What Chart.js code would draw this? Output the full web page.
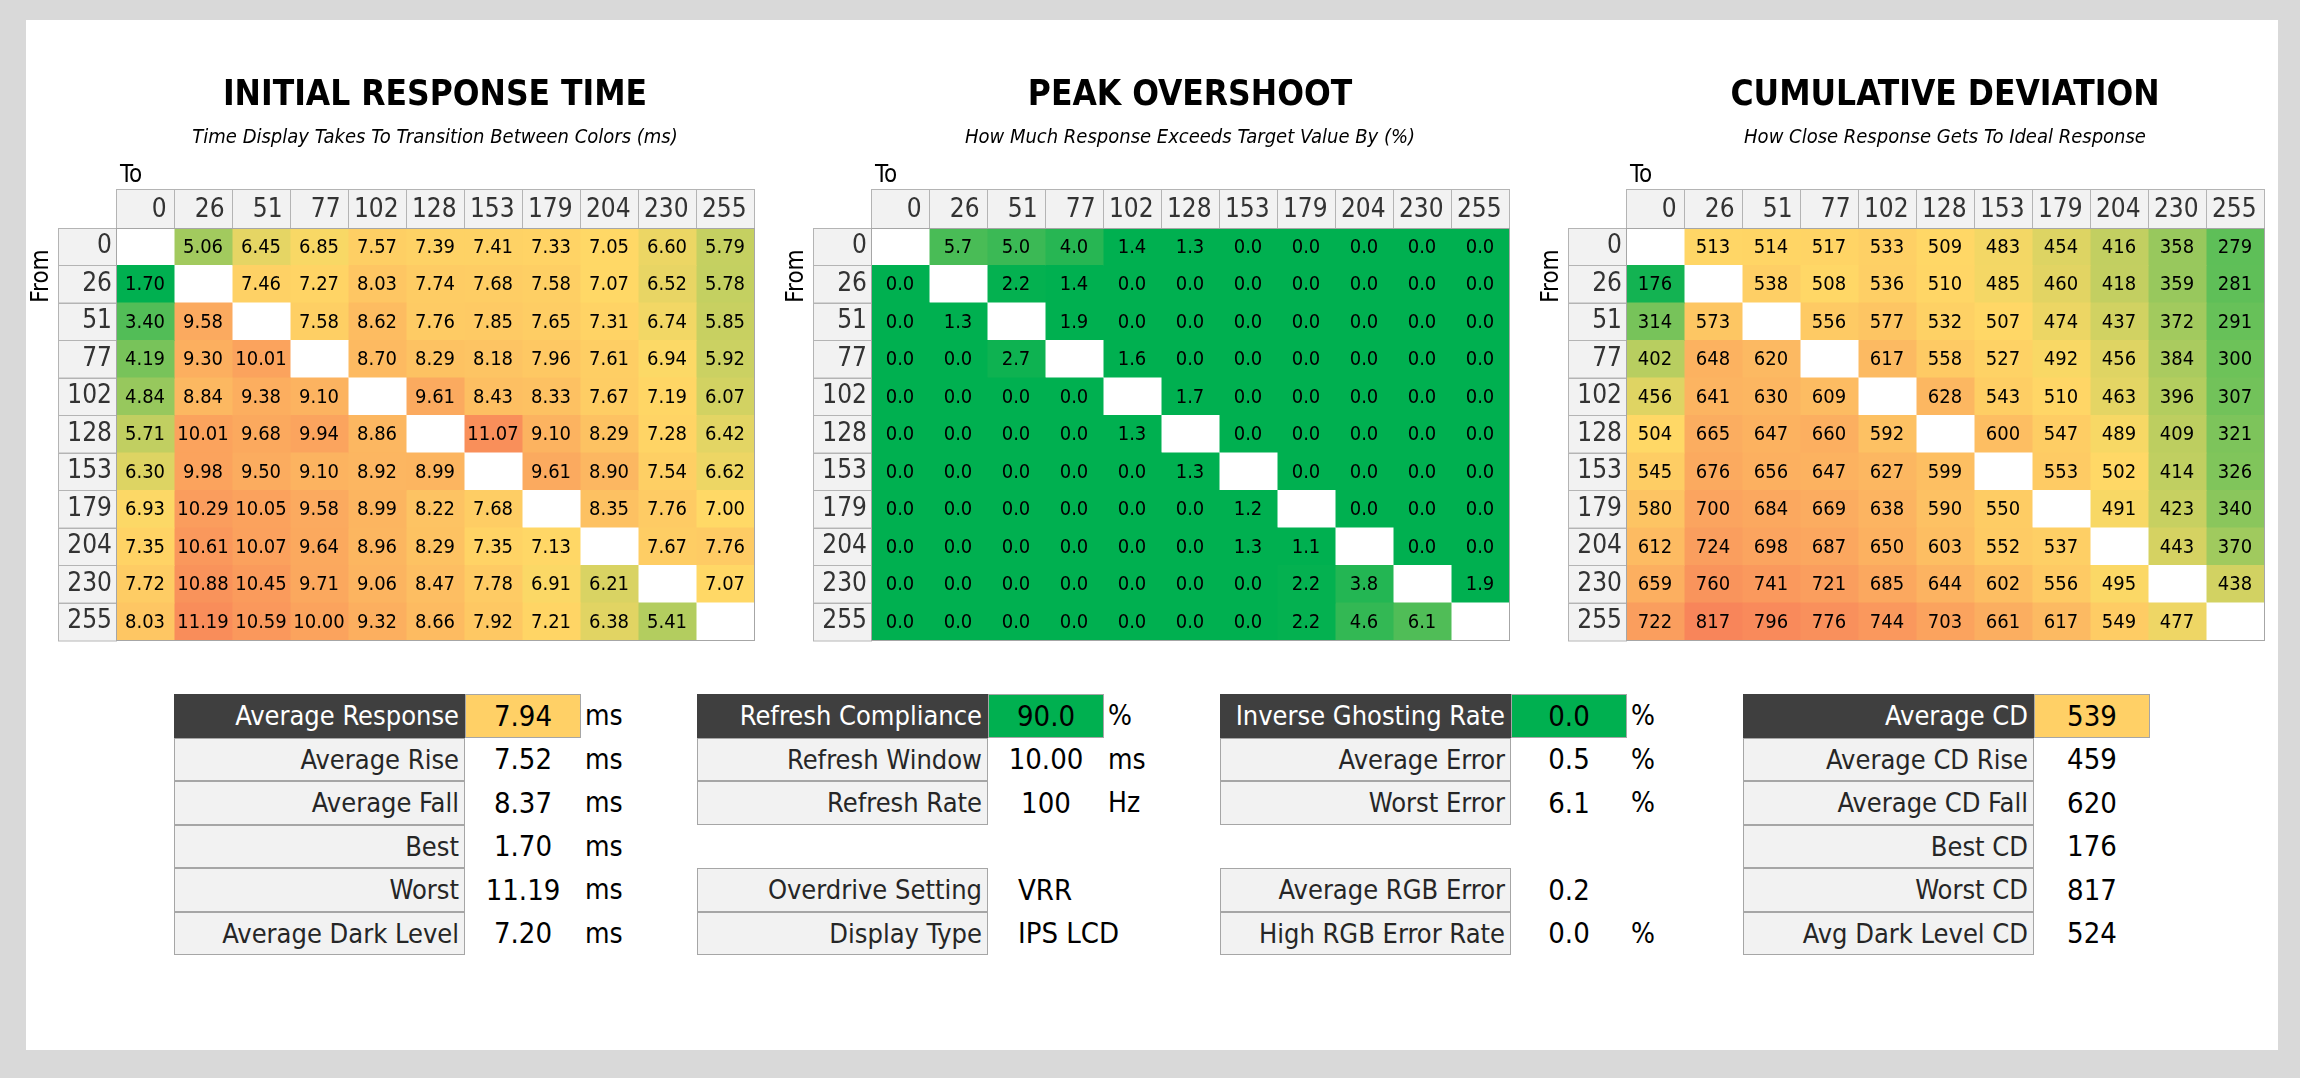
<!DOCTYPE html>
<html>
<head>
<meta charset="utf-8">
<script src="https://cdn.jsdelivr.net/npm/chart.js@4.4.1/dist/chart.umd.min.js"></script>
<style>
  html, body { margin: 0; padding: 0; background: #d9d9d9; }
  body { width: 2300px; height: 1078px; position: relative; overflow: hidden;
         font-family: "DejaVu Sans Condensed", "DejaVu Sans", sans-serif; }
  #panel { position: absolute; left: 26px; top: 20px; width: 2252px; height: 1030px; background: #fff; }
  canvas.heat { position: absolute; top: 0; }
  .cell { position: absolute; box-sizing: border-box; white-space: nowrap; }
  .lab { background: #f2f2f2; border: 1px solid #a6a6a6; text-align: right; padding-right: 5px;
         font-size: 27px; color: #262626; }
  .lab.head { background: #3f3f3f; border-color: #3f3f3f; color: #fff; }
  .val { text-align: center; font-size: 29px; color: #000; }
  .val.text { text-align: left; padding-left: 30px; }
  .val.head { border: 1px solid #a6a6a6; }
  .unit { font-size: 28px; color: #000; }
</style>
</head>
<body>
<div id="panel"></div>
<canvas id="rt" class="heat" width="770" height="660" style="left:0px"></canvas>
<canvas id="os" class="heat" width="770" height="660" style="left:755px"></canvas>
<canvas id="cd" class="heat" width="770" height="660" style="left:1510px"></canvas>
<script>
const FONT = '"DejaVu Sans Condensed", "DejaVu Sans", sans-serif';

// transitions: rows = From level, columns = To level
const fromLevels = ['0', '26', '51', '77', '102', '128', '153', '179', '204', '230', '255'];
const toLevels = ['0', '26', '51', '77', '102', '128', '153', '179', '204', '230', '255'];

// initial response time (ms)
const responseTime = [
  [null, 5.06, 6.45, 6.85, 7.57, 7.39, 7.41, 7.33, 7.05, 6.60, 5.79],
  [1.70, null, 7.46, 7.27, 8.03, 7.74, 7.68, 7.58, 7.07, 6.52, 5.78],
  [3.40, 9.58, null, 7.58, 8.62, 7.76, 7.85, 7.65, 7.31, 6.74, 5.85],
  [4.19, 9.30, 10.01, null, 8.70, 8.29, 8.18, 7.96, 7.61, 6.94, 5.92],
  [4.84, 8.84, 9.38, 9.10, null, 9.61, 8.43, 8.33, 7.67, 7.19, 6.07],
  [5.71, 10.01, 9.68, 9.94, 8.86, null, 11.07, 9.10, 8.29, 7.28, 6.42],
  [6.30, 9.98, 9.50, 9.10, 8.92, 8.99, null, 9.61, 8.90, 7.54, 6.62],
  [6.93, 10.29, 10.05, 9.58, 8.99, 8.22, 7.68, null, 8.35, 7.76, 7.00],
  [7.35, 10.61, 10.07, 9.64, 8.96, 8.29, 7.35, 7.13, null, 7.67, 7.76],
  [7.72, 10.88, 10.45, 9.71, 9.06, 8.47, 7.78, 6.91, 6.21, null, 7.07],
  [8.03, 11.19, 10.59, 10.00, 9.32, 8.66, 7.92, 7.21, 6.38, 5.41, null]
];

// peak overshoot (%)
const overshoot = [
  [null, 5.7, 5.0, 4.0, 1.4, 1.3, 0.0, 0.0, 0.0, 0.0, 0.0],
  [0.0, null, 2.2, 1.4, 0.0, 0.0, 0.0, 0.0, 0.0, 0.0, 0.0],
  [0.0, 1.3, null, 1.9, 0.0, 0.0, 0.0, 0.0, 0.0, 0.0, 0.0],
  [0.0, 0.0, 2.7, null, 1.6, 0.0, 0.0, 0.0, 0.0, 0.0, 0.0],
  [0.0, 0.0, 0.0, 0.0, null, 1.7, 0.0, 0.0, 0.0, 0.0, 0.0],
  [0.0, 0.0, 0.0, 0.0, 1.3, null, 0.0, 0.0, 0.0, 0.0, 0.0],
  [0.0, 0.0, 0.0, 0.0, 0.0, 1.3, null, 0.0, 0.0, 0.0, 0.0],
  [0.0, 0.0, 0.0, 0.0, 0.0, 0.0, 1.2, null, 0.0, 0.0, 0.0],
  [0.0, 0.0, 0.0, 0.0, 0.0, 0.0, 1.3, 1.1, null, 0.0, 0.0],
  [0.0, 0.0, 0.0, 0.0, 0.0, 0.0, 0.0, 2.2, 3.8, null, 1.9],
  [0.0, 0.0, 0.0, 0.0, 0.0, 0.0, 0.0, 2.2, 4.6, 6.1, null]
];

// cumulative deviation
const deviation = [
  [null, 513, 514, 517, 533, 509, 483, 454, 416, 358, 279],
  [176, null, 538, 508, 536, 510, 485, 460, 418, 359, 281],
  [314, 573, null, 556, 577, 532, 507, 474, 437, 372, 291],
  [402, 648, 620, null, 617, 558, 527, 492, 456, 384, 300],
  [456, 641, 630, 609, null, 628, 543, 510, 463, 396, 307],
  [504, 665, 647, 660, 592, null, 600, 547, 489, 409, 321],
  [545, 676, 656, 647, 627, 599, null, 553, 502, 414, 326],
  [580, 700, 684, 669, 638, 590, 550, null, 491, 423, 340],
  [612, 724, 698, 687, 650, 603, 552, 537, null, 443, 370],
  [659, 760, 741, 721, 685, 644, 602, 556, 495, null, 438],
  [722, 817, 796, 776, 744, 703, 661, 617, 549, 477, null]
];

// summary tables: label, value, unit (null = empty row)
const responseStats = [
  ['Average Response', '7.94', 'ms'],
  ['Average Rise', '7.52', 'ms'],
  ['Average Fall', '8.37', 'ms'],
  ['Best', '1.70', 'ms'],
  ['Worst', '11.19', 'ms'],
  ['Average Dark Level', '7.20', 'ms']
];
const refreshStats = [
  ['Refresh Compliance', '90.0', '%'],
  ['Refresh Window', '10.00', 'ms'],
  ['Refresh Rate', '100', 'Hz'],
  null,
  ['Overdrive Setting', 'VRR', ''],
  ['Display Type', 'IPS LCD', '']
];
const errorStats = [
  ['Inverse Ghosting Rate', '0.0', '%'],
  ['Average Error', '0.5', '%'],
  ['Worst Error', '6.1', '%'],
  null,
  ['Average RGB Error', '0.2', ''],
  ['High RGB Error Rate', '0.0', '%']
];
const deviationStats = [
  ['Average CD', '539', ''],
  ['Average CD Rise', '459', ''],
  ['Average CD Fall', '620', ''],
  ['Best CD', '176', ''],
  ['Worst CD', '817', ''],
  ['Avg Dark Level CD', '524', '']
];

function hexRgb(h) {
  return [1, 3, 5].map(k => parseInt(h.slice(k, k + 2), 16));
}

// piecewise colour scale like a spreadsheet conditional format
function scaleColor(v, stops) {
  if (v <= stops[0][0]) return stops[0][1];
  for (let k = 1; k < stops.length; k++) {
    if (v <= stops[k][0]) {
      const [v0, c0] = stops[k - 1];
      const [v1, c1] = stops[k];
      const t = (v - v0) / (v1 - v0);
      const a = hexRgb(c0), b = hexRgb(c1);
      return 'rgb(' + a.map((x, n) => Math.round(x + (b[n] - x) * t)).join(',') + ')';
    }
  }
  return stops[stops.length - 1][1];
}

function heatmap(id, title, subtitle, values, digits, stops) {
  const datasets = toLevels.map((to, j) => ({
    label: to,
    data: fromLevels.map(() => 1),
    backgroundColor: fromLevels.map((f, i) => values[i][j] === null ? '#ffffff' : scaleColor(values[i][j], stops)),
    borderWidth: 0,
    inflateAmount: 0.5,
    barPercentage: 1,
    categoryPercentage: 1
  }));

  const frame = {
    id: 'frame',
    beforeDraw(chart) {
      const {ctx, chartArea: area, scales: {x, y}} = chart;
      const band = y.getPixelForValue(1) - y.getPixelForValue(0);
      const labLeft = y.left;
      ctx.save();
      ctx.fillStyle = '#f2f2f2';
      ctx.strokeStyle = '#b4b4b4';
      ctx.lineWidth = 1;
      toLevels.forEach((t, j) => {
        const x0 = x.getPixelForValue(j), x1 = x.getPixelForValue(j + 1);
        ctx.fillRect(x0, x.top, x1 - x0, x.bottom - x.top);
        ctx.strokeRect(Math.round(x0) + 0.5, x.top + 0.5, x1 - x0, x.bottom - x.top);
      });
      fromLevels.forEach((f, i) => {
        const yc = y.getPixelForValue(i);
        ctx.fillRect(labLeft, yc - band / 2, y.right - labLeft, band);
        ctx.strokeRect(labLeft + 0.5, Math.round(yc - band / 2) + 0.5, y.right - labLeft, band);
      });

      const cx = (area.left + area.right) / 2;
      ctx.fillStyle = '#000';
      ctx.textAlign = 'center';
      ctx.textBaseline = 'alphabetic';
      ctx.font = 'bold 35px ' + FONT;
      ctx.fillText(title, cx, 105);
      ctx.font = 'italic 20px ' + FONT;
      ctx.fillText(subtitle, cx, 143);
      ctx.font = '24px ' + FONT;
      ctx.textAlign = 'left';
      ctx.fillText('To', area.left + 4, 182);
      ctx.translate(labLeft - 16, 276);
      ctx.rotate(-Math.PI / 2);
      ctx.textAlign = 'center';
      ctx.textBaseline = 'middle';
      ctx.fillText('From', 0, 0);
      ctx.restore();
    },
    afterDatasetsDraw(chart) {
      const {ctx, chartArea: area} = chart;
      ctx.save();
      ctx.font = '20px ' + FONT;
      ctx.fillStyle = '#000';
      ctx.textAlign = 'center';
      ctx.textBaseline = 'middle';
      chart.data.datasets.forEach((ds, j) => {
        chart.getDatasetMeta(j).data.forEach((bar, i) => {
          const v = values[i][j];
          if (v === null) return;
          const {x, y, base} = bar.getProps(['x', 'y', 'base'], true);
          ctx.fillText(v.toFixed(digits), (x + base) / 2, y + 1);
        });
      });
      ctx.strokeStyle = '#a6a6a6';
      ctx.lineWidth = 1;
      ctx.strokeRect(Math.round(area.left) + 0.5, Math.round(area.top) + 0.5,
        Math.round(area.right - area.left), Math.round(area.bottom - area.top));
      ctx.restore();
    }
  };

  return new Chart(document.getElementById(id), {
    type: 'bar',
    data: { labels: fromLevels, datasets },
    options: {
      indexAxis: 'y',
      responsive: false,
      animation: false,
      events: [],
      layout: { padding: { left: 58, top: 189, right: 16, bottom: 18 } },
      plugins: { legend: { display: false }, tooltip: { enabled: false } },
      scales: {
        x: {
          type: 'linear',
          position: 'top',
          min: 0,
          max: toLevels.length,
          stacked: true,
          grid: { display: false, drawTicks: false },
          border: { display: false },
          afterBuildTicks(scale) {
            scale.ticks = toLevels.map((t, j) => ({ value: j + 1 }));
          },
          ticks: {
            align: 'end',
            padding: 2,
            autoSkip: false,
            maxRotation: 0,
            color: '#333',
            font: { family: FONT, size: 26 },
            callback: (v) => toLevels[v - 1] + ' '
          },
          afterFit(scale) { scale.height = 39; }
        },
        y: {
          type: 'category',
          position: 'left',
          stacked: true,
          grid: { display: false, drawTicks: false },
          border: { display: false },
          ticks: {
            padding: 4,
            color: '#333',
            font: { family: FONT, size: 26 }
          },
          afterFit(scale) { scale.width = 58; }
        }
      }
    },
    plugins: [frame]
  });
}

heatmap('rt', 'INITIAL RESPONSE TIME', 'Time Display Takes To Transition Between Colors (ms)',
  responseTime, 2, [[1.7, '#00b050'], [7.0, '#ffd966'], [11.2, '#f98d5a']]);
heatmap('os', 'PEAK OVERSHOOT', 'How Much Response Exceeds Target Value By (%)',
  overshoot, 1, [[2.0, '#00b050'], [15, '#ffd966']]);
heatmap('cd', 'CUMULATIVE DEVIATION', 'How Close Response Gets To Ideal Response',
  deviation, 0, [[150, '#00b050'], [500, '#ffd966'], [820, '#f8845a']]);

// summary tables under the heatmaps
const tables = [
  [responseStats, '#ffd066'],
  [refreshStats, '#00b050'],
  [errorStats, '#00b050'],
  [deviationStats, '#ffd066']
];
const rowH = 43.5;
tables.forEach(([rows, headColor], t) => {
  const left = 174 + 523 * t;
  rows.forEach((r, i) => {
    if (!r) return;
    const top = Math.round(694 + i * rowH);
    const h = Math.round(694 + (i + 1) * rowH) - top;
    const head = i === 0;
    const lab = document.createElement('div');
    lab.className = 'cell lab' + (head ? ' head' : '');
    Object.assign(lab.style, { left: left + 'px', top: top + 'px', width: '291px', height: h + 'px', lineHeight: (h - 2) + 'px' });
    lab.textContent = r[0];
    document.body.appendChild(lab);

    const val = document.createElement('div');
    const isText = isNaN(parseFloat(r[1]));
    val.className = 'cell val' + (head ? ' head' : '') + (isText ? ' text' : '');
    Object.assign(val.style, { left: (left + 291) + 'px', top: top + 'px', width: '116px', height: h + 'px', lineHeight: (h - (head ? 2 : 0)) + 'px' });
    if (head) val.style.background = headColor;
    val.textContent = r[1];
    document.body.appendChild(val);

    if (r[2]) {
      const u = document.createElement('div');
      u.className = 'cell unit';
      Object.assign(u.style, { left: (left + 411) + 'px', top: top + 'px', height: h + 'px', lineHeight: h + 'px' });
      u.textContent = r[2];
      document.body.appendChild(u);
    }
  });
});
</script>
</body>
</html>
